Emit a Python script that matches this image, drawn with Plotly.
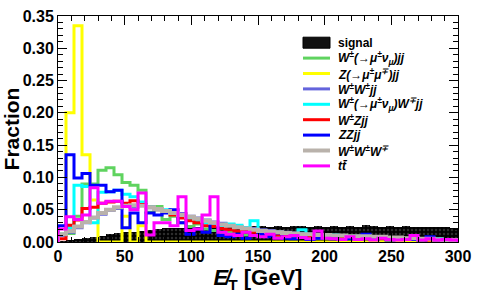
import plotly.graph_objects as go

# ---- data (6 GeV bins, 0-300 GeV) ----
bin_width = 6
bin_lo = list(range(0, 300, bin_width))

signal = [0.001, 0.003, 0.005, 0.006, 0.007, 0.009, 0.012, 0.014, 0.015, 0.016,
          0.017, 0.019, 0.020, 0.021, 0.021, 0.022, 0.022, 0.023, 0.022, 0.023,
          0.024, 0.023, 0.024, 0.024, 0.025, 0.025, 0.024, 0.025, 0.024, 0.025,
          0.025, 0.024, 0.025, 0.024, 0.025, 0.024, 0.025, 0.024, 0.026, 0.025,
          0.024, 0.025, 0.024, 0.025, 0.024, 0.024, 0.023, 0.024, 0.023, 0.022]

wjj = [0.012, 0.013, 0.040, 0.090, 0.090, 0.111, 0.115, 0.104, 0.092, 0.088,
       0.080, 0.046, 0.055, 0.035, 0.040, 0.030, 0.024, 0.028, 0.020, 0.018,
       0.015, 0.016, 0.012, 0.011, 0.010, 0.009, 0.009, 0.008, 0.008, 0.007,
       0.007, 0.007, 0.006, 0.006, 0.006, 0.005, 0.005, 0.005, 0.005, 0.004,
       0.004, 0.004, 0.004, 0.004, 0.003, 0.003, 0.003, 0.003, 0.003, 0.003]

zjj = [0.010, 0.200, 0.335, 0.135, 0.065, 0.0, 0.0, 0.0, 0.040, 0.0,
       0.025, 0.0, 0.0, 0.0, 0.0, 0.0, 0.0, 0.0, 0.0, 0.0,
       0.0, 0.0, 0.0, 0.0, 0.0, 0.0, 0.0, 0.0, 0.0, 0.0,
       0.0, 0.0, 0.0, 0.0, 0.0, 0.0, 0.0, 0.0, 0.0, 0.0,
       0.0, 0.0, 0.0, 0.0, 0.0, 0.0, 0.0, 0.0, 0.0, 0.0]

wwjj = [0.010, 0.015, 0.022, 0.030, 0.037, 0.043, 0.049, 0.052, 0.055, 0.054,
        0.057, 0.053, 0.052, 0.047, 0.046, 0.044, 0.040, 0.037, 0.034, 0.031,
        0.029, 0.026, 0.024, 0.022, 0.021, 0.019, 0.018, 0.016, 0.015, 0.014,
        0.013, 0.012, 0.012, 0.011, 0.010, 0.010, 0.009, 0.009, 0.008, 0.008,
        0.007, 0.007, 0.007, 0.006, 0.006, 0.005, 0.005, 0.004, 0.004, 0.004]

wmwjj = [0.012, 0.022, 0.088, 0.086, 0.030, 0.077, 0.078, 0.080, 0.074, 0.070,
         0.062, 0.055, 0.050, 0.050, 0.045, 0.040, 0.036, 0.033, 0.030, 0.028,
         0.025, 0.028, 0.026, 0.022, 0.033, 0.018, 0.016, 0.015, 0.014, 0.013,
         0.019, 0.012, 0.011, 0.010, 0.011, 0.009, 0.008, 0.009, 0.007, 0.007,
         0.006, 0.007, 0.005, 0.005, 0.006, 0.004, 0.004, 0.005, 0.003, 0.003]

wzjj = [0.005, 0.026, 0.034, 0.052, 0.054, 0.060, 0.062, 0.063, 0.060, 0.064,
        0.058, 0.054, 0.050, 0.046, 0.042, 0.037, 0.033, 0.030, 0.025, 0.024,
        0.021, 0.019, 0.017, 0.016, 0.015, 0.013, 0.012, 0.011, 0.010, 0.010,
        0.009, 0.008, 0.008, 0.007, 0.007, 0.007, 0.006, 0.006, 0.006, 0.005,
        0.005, 0.005, 0.004, 0.004, 0.004, 0.004, 0.003, 0.003, 0.003, 0.003]

zzjj = [0.025, 0.135, 0.099, 0.106, 0.088, 0.088, 0.078, 0.080, 0.022, 0.045,
        0.030, 0.045, 0.042, 0.045, 0.050, 0.030, 0.012, 0.020, 0.015, 0.030,
        0.010, 0.008, 0.012, 0.006, 0.010, 0.012, 0.008, 0.014, 0.006, 0.005,
        0.008, 0.004, 0.006, 0.010, 0.005, 0.004, 0.005, 0.006, 0.012, 0.004,
        0.008, 0.003, 0.004, 0.005, 0.004, 0.003, 0.008, 0.003, 0.004, 0.004]

wwwjj = [0.012, 0.017, 0.024, 0.031, 0.038, 0.045, 0.050, 0.054, 0.056, 0.057,
         0.056, 0.054, 0.051, 0.048, 0.045, 0.042, 0.039, 0.036, 0.033, 0.030,
         0.027, 0.025, 0.023, 0.021, 0.019, 0.017, 0.016, 0.015, 0.014, 0.013,
         0.012, 0.012, 0.011, 0.011, 0.010, 0.010, 0.009, 0.009, 0.009, 0.008,
         0.008, 0.007, 0.007, 0.006, 0.006, 0.005, 0.005, 0.004, 0.003, 0.003]

ttbar = [0.020, 0.039, 0.035, 0.042, 0.084, 0.060, 0.063, 0.063, 0.055, 0.050,
         0.076, 0.011, 0.030, 0.030, 0.025, 0.070, 0.018, 0.020, 0.042, 0.070,
         0.015, 0.012, 0.010, 0.015, 0.010, 0.008, 0.012, 0.006, 0.008, 0.010,
         0.007, 0.005, 0.017, 0.006, 0.005, 0.004, 0.008, 0.004, 0.005, 0.003,
         0.006, 0.004, 0.003, 0.004, 0.010, 0.003, 0.005, 0.003, 0.004, 0.003]

signal_name = "signal"
series_names = [
    "<i>W<sup>±</sup>(→μ<sup>±</sup>ν<sub>μ</sub>)jj</i>",
    "<i>Z(→μ<sup>±</sup>μ<sup>∓</sup>)jj</i>",
    "<i>W<sup>±</sup>W<sup>±</sup>jj</i>",
    "<i>W<sup>±</sup>(→μ<sup>±</sup>ν<sub>μ</sub>)W<sup>∓</sup>jj</i>",
    "<i>W<sup>±</sup>Zjj</i>",
    "<i>ZZjj</i>",
    "<i>W<sup>±</sup>W<sup>±</sup>W<sup>∓</sup></i>",
    "<i>tt̄</i>",
]
series_values = [wjj, zjj, wwjj, wmwjj, wzjj, zzjj, wwwjj, ttbar]
series_colors = ["#5fd35f", "#ffff00", "#6464dc", "#00ffff", "#ff0000",
                 "#0000ff", "#b9b2ab", "#ff00ff"]
series_widths = [3, 3, 3, 3, 3, 3, 4, 3]

x_min, x_max = 0, 300
y_min, y_max = 0, 0.35

fig = go.Figure()

centers = [b + bin_width / 2 for b in bin_lo]
fig.add_trace(go.Bar(
    x=centers, y=signal, width=bin_width, name=signal_name, showlegend=False,
    marker=dict(color="black", line=dict(width=0),
                pattern=dict(shape=".", fgcolor="#5a5a5a", bgcolor="black",
                             size=4, solidity=0.3)),
))

edges = bin_lo + [x_max]
for name, vals, col, lw in zip(series_names, series_values, series_colors, series_widths):
    xs = [edges[0]] + edges + [edges[-1]]
    ys = [0] + vals + [vals[-1]] + [0]
    fig.add_trace(go.Scatter(
        x=xs, y=ys, mode="lines", line=dict(color=col, width=lw, shape="hv"),
        name=name, showlegend=False,
    ))

font_fam = "Liberation Sans, Arial, Helvetica, sans-serif"

# ---- legend drawn in paper coordinates ----
L, R, T, B = 58, 19, 16, 65
W, H = 477, 307
pw, ph = W - L - R, H - T - B


def px2x(px):
    return (px - L) / pw


def py2y(py):
    return (H - B - py) / ph


shapes = []
annotations = []
row0, row_step = 42.7, 15.4
sym_x0, sym_x1, txt_x = 303, 330, 336
# signal entry
shapes.append(dict(type="rect", xref="paper", yref="paper",
                   x0=px2x(sym_x0), x1=px2x(sym_x1),
                   y0=py2y(row0 + 5.5), y1=py2y(row0 - 5.5),
                   fillcolor="#111111", line=dict(color="black", width=1)))
annotations.append(dict(xref="paper", yref="paper", x=px2x(txt_x), y=py2y(row0),
                        xanchor="left", yanchor="middle", showarrow=False,
                        text="<b>" + signal_name + "</b>",
                        font=dict(size=12, family=font_fam)))
for i, (name, col, lw) in enumerate(zip(series_names, series_colors, series_widths)):
    yy = row0 + (i + 1) * row_step
    shapes.append(dict(type="line", xref="paper", yref="paper",
                       x0=px2x(sym_x0), x1=px2x(sym_x1),
                       y0=py2y(yy), y1=py2y(yy),
                       line=dict(color=col, width=lw)))
    annotations.append(dict(xref="paper", yref="paper", x=px2x(txt_x), y=py2y(yy),
                            xanchor="left", yanchor="middle", showarrow=False,
                            text="<b>" + name + "</b>",
                            font=dict(size=12, family=font_fam)))

fig.update_layout(
    width=W, height=H,
    margin=dict(l=L, r=R, t=T, b=B),
    paper_bgcolor="white", plot_bgcolor="white",
    barmode="overlay", bargap=0,
    font=dict(family=font_fam, color="black"),
    showlegend=False,
    shapes=shapes, annotations=annotations,
    xaxis=dict(
        range=[x_min, x_max], showgrid=False, zeroline=False, automargin=False,
        showline=True, linecolor="black", linewidth=1, mirror="allticks",
        ticks="inside", ticklen=9, tickwidth=1, tickcolor="black",
        dtick=50, tick0=0,
        tickfont=dict(size=16, family=font_fam, weight="bold"),
        minor=dict(dtick=10, ticklen=5, ticks="inside", tickcolor="black"),
        title=dict(text="<i>E̸</i><sub>T</sub> [GeV]",
                   font=dict(size=22, family=font_fam, weight="bold"),
                   standoff=2),
    ),
    yaxis=dict(
        range=[y_min, y_max], showgrid=False, zeroline=False, automargin=False,
        showline=True, linecolor="black", linewidth=1, mirror="allticks",
        ticks="inside", ticklen=9, tickwidth=1, tickcolor="black",
        dtick=0.05, tick0=0, tickformat=".2f",
        tickfont=dict(size=16, family=font_fam, weight="bold"),
        minor=dict(dtick=0.01, ticklen=5, ticks="inside", tickcolor="black"),
        title=dict(text="Fraction",
                   font=dict(size=21, family=font_fam, weight="bold"),
                   standoff=2),
    ),
)

fig.write_html("out.html", config={"displayModeBar": False, "staticPlot": True})

# remove the browser's default page margin so the figure sits at the top-left corner
with open("out.html", "r", encoding="utf-8") as f:
    page = f.read()
page = page.replace("<head>", "<head><style>html,body{margin:0;padding:0;overflow:hidden;}</style>", 1)
with open("out.html", "w", encoding="utf-8") as f:
    f.write(page)
